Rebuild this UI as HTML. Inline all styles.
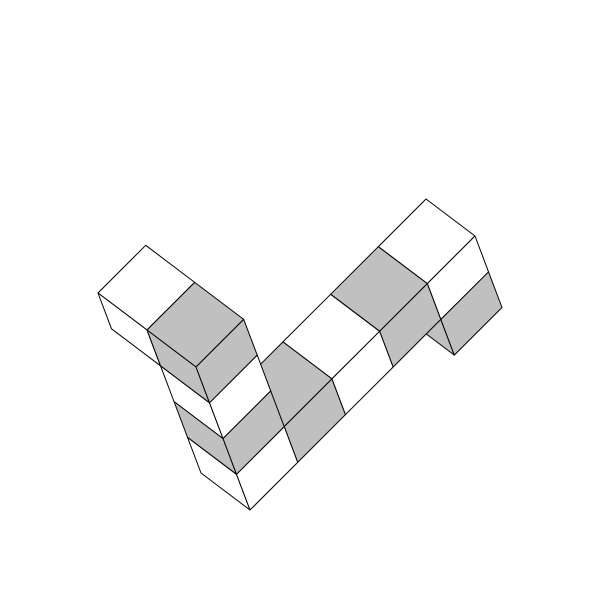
<!DOCTYPE html>
<html><head><meta charset="utf-8"><style>
html,body{margin:0;padding:0;background:#fff;}
svg{display:block;}
</style></head><body>
<svg id="chart" width="600" height="600" viewBox="0 0 600 600" xmlns="http://www.w3.org/2000/svg">
<rect x="0" y="0" width="600" height="600" fill="#ffffff"/>
</svg>
<script>
// Cube grid positions (x, y, depth z measured downward)
const cubeX = [-1, 0, 0, 0, 0, 0, 0, 0, 0, 0];
const cubeY = [ 0, 0, 0, 0, 0, 1, 2, 3, 4, 4];
const cubeZ = [ 0, 0, 1, 2, 3, 3, 3, 3, 3, 4];
const cubeShade = ['white','gray','white','gray','white','gray','white','gray','white','gray'];

const svg = document.getElementById('chart');
const NS = 'http://www.w3.org/2000/svg';
const O = [147, 330];
const A = [49, 37];
const B = [47.7, -47.65];
const C = [13.5, 35.75];
function proj(x, y, z) {
  return [O[0] + x*A[0] + y*B[0] + z*C[0], O[1] + x*A[1] + y*B[1] + z*C[1]];
}
const fillOf = s => s === 'gray' ? '#c0c0c0' : '#ffffff';

const idx = cubeX.map((_, i) => i);
idx.sort((a, b) => (cubeX[a] - cubeY[a] - cubeZ[a]) - (cubeX[b] - cubeY[b] - cubeZ[b]));

idx.forEach(i => {
  const x = cubeX[i], y = cubeY[i], z = cubeZ[i];
  const g = document.createElementNS(NS, 'g');
  
  
  const faces = [
    ['top', [[x,y,z],[x+1,y,z],[x+1,y+1,z],[x,y+1,z]]],
    ['front', [[x,y,z],[x+1,y,z],[x+1,y,z+1],[x,y,z+1]]],
    ['side', [[x+1,y,z],[x+1,y+1,z],[x+1,y+1,z+1],[x+1,y,z+1]]]
  ];
  faces.forEach(f => {
    const p = document.createElementNS(NS, 'polygon');
    
    
    p.setAttribute('points', f[1].map(v => proj(v[0], v[1], v[2]).map(n => n.toFixed(1)).join(',')).join(' '));
    p.setAttribute('fill', fillOf(cubeShade[i]));
    p.setAttribute('stroke', '#000');
    p.setAttribute('stroke-width', '1');
    p.setAttribute('stroke-linejoin', 'round');
    g.appendChild(p);
  });
  svg.appendChild(g);
});
</script>
</body></html>
